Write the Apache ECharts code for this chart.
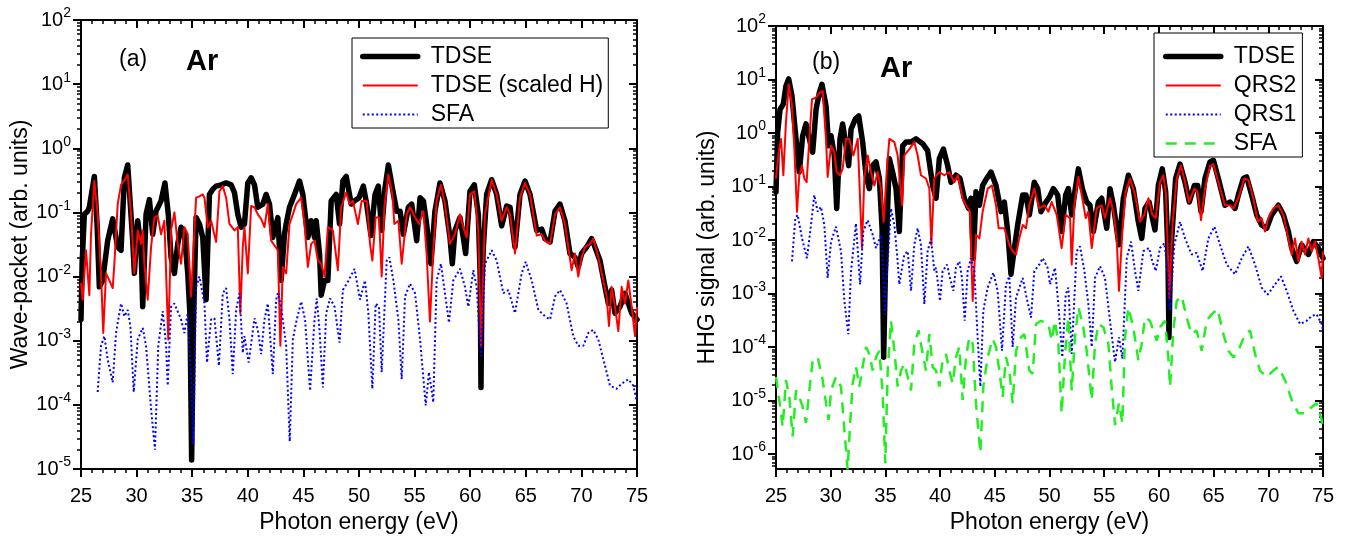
<!DOCTYPE html>
<html><head><meta charset="utf-8">
<script src="https://cdn.jsdelivr.net/npm/echarts@6/dist/echarts.min.js"></script>
<style>html,body{margin:0;padding:0;background:#fff}#c{width:1347px;height:539px}</style>
</head><body><div id="c"></div>
<script>
// ---- data: [photon energy (eV), log10(signal)] ----
const tdseA = [[25.0,-2.67],[25.1,-1.8],[25.3,-1.03],[25.6,-0.98],[25.75,-0.92],[26.2,-0.44],[26.45,-1.2],[26.65,-2.16],[26.95,-2.06],[27.4,-1.44],[27.85,-1.10],[28.3,-1.54],[28.6,-1.59],[28.9,-0.46],[29.2,-0.26],[29.65,-1.44],[29.8,-1.95],[30.1,-1.13],[30.4,-1.54],[30.55,-2.47],[30.85,-1.03],[31.15,-0.80],[31.45,-1.34],[31.75,-0.98],[32.2,-0.82],[32.55,-0.54],[32.85,-1.03],[33.1,-1.70],[33.4,-1.95],[33.7,-1.49],[34.0,-1.23],[34.3,-1.34],[34.6,-1.95],[34.8,-2.6],[34.95,-4.86],[35.1,-2.8],[35.35,-1.08],[35.65,-1.18],[35.95,-1.39],[36.25,-2.36],[36.55,-0.72],[36.85,-0.64],[37.15,-0.59],[37.6,-0.57],[38.05,-0.54],[38.5,-0.57],[38.8,-0.69],[39.1,-1.03],[39.4,-1.23],[39.7,-1.18],[40.0,-0.54],[40.3,-0.46],[40.6,-0.57],[40.9,-0.92],[41.35,-0.87],[41.65,-0.72],[41.95,-0.87],[42.25,-1.39],[42.7,-1.08],[43.0,-2.06],[43.3,-1.34],[43.45,-1.18],[43.75,-0.92],[44.2,-0.72],[44.65,-0.51],[44.95,-0.72],[45.4,-1.39],[45.7,-1.13],[46.0,-1.39],[46.15,-1.13],[46.45,-1.64],[46.6,-2.29],[46.9,-2.06],[47.2,-2.06],[47.5,-0.82],[47.95,-0.72],[48.25,-1.18],[48.55,-0.51],[48.85,-0.44],[49.3,-0.87],[49.6,-0.82],[50.0,-0.77],[50.39,-0.59],[50.69,-0.87],[51.08,-1.36],[51.44,-0.72],[51.74,-0.59],[52.04,-1.28],[52.34,-0.62],[52.64,-0.26],[53.0,-0.62],[53.39,-0.98],[53.69,-0.98],[53.99,-1.34],[54.44,-0.92],[54.74,-0.87],[55.19,-1.44],[55.49,-0.77],[55.79,-0.82],[56.08,-1.18],[56.47,-1.80],[56.83,-0.98],[57.28,-0.54],[57.73,-0.82],[58.18,-1.39],[58.39,-1.80],[58.63,-1.28],[59.08,-1.08],[59.38,-1.39],[59.59,-1.64],[59.98,-0.67],[60.37,-0.57],[60.73,-1.03],[60.9,-2.0],[60.97,-3.73],[61.05,-2.2],[61.18,-1.54],[61.48,-0.72],[61.93,-0.49],[62.38,-0.72],[62.83,-1.21],[63.28,-0.90],[63.58,-0.92],[64.03,-1.54],[64.48,-0.72],[64.93,-0.51],[65.38,-0.72],[65.98,-1.28],[66.43,-1.26],[66.73,-1.41],[67.18,-1.46],[67.63,-0.98],[68.07,-0.87],[68.52,-1.13],[68.97,-1.64],[69.42,-1.70],[69.72,-1.85],[70.02,-1.64],[70.47,-1.54],[70.92,-1.41],[71.22,-1.54],[71.67,-1.75],[72.12,-2.16],[72.42,-2.42],[72.72,-2.21],[73.02,-2.57],[73.47,-2.47],[73.92,-2.26],[74.22,-2.42],[74.52,-2.57],[75.0,-2.67]];
const scaledHA = [[25.0,-2.1],[25.15,-2.36],[25.45,-1.59],[25.75,-2.29],[25.9,-1.34],[26.2,-0.51],[26.5,-1.03],[26.8,-1.95],[27.0,-2.88],[27.25,-1.95],[27.55,-2.06],[27.85,-2.18],[28.0,-1.80],[28.3,-0.87],[28.6,-0.57],[29.05,-0.46],[29.2,-0.41],[29.5,-1.03],[29.8,-1.95],[30.1,-1.28],[30.4,-1.49],[30.55,-1.28],[30.7,-1.80],[31.0,-2.36],[31.3,-1.54],[31.6,-1.08],[31.9,-1.05],[32.2,-1.34],[32.5,-1.13],[32.85,-2.98],[33.1,-1.28],[33.4,-1.00],[33.7,-1.49],[34.0,-1.80],[34.3,-1.23],[34.6,-1.34],[34.9,-2.31],[35.35,-0.77],[35.65,-0.75],[35.95,-0.72],[36.1,-0.77],[36.4,-1.23],[36.7,-1.13],[37.15,-1.46],[37.45,-0.67],[37.75,-0.59],[38.05,-0.77],[38.35,-1.18],[38.8,-1.28],[39.1,-1.23],[39.33,-2.57],[39.55,-1.54],[39.7,-1.23],[40.0,-1.95],[40.3,-0.90],[40.6,-0.92],[40.9,-1.03],[41.2,-1.10],[41.5,-1.23],[41.8,-0.87],[42.1,-1.44],[42.7,-1.59],[42.93,-3.08],[43.15,-1.85],[43.45,-1.95],[43.75,-1.18],[44.05,-1.03],[44.35,-0.87],[44.8,-0.77],[45.1,-1.18],[45.4,-1.85],[45.7,-1.49],[46.0,-1.44],[46.3,-1.75],[46.6,-1.80],[46.9,-2.00],[47.2,-1.23],[47.65,-1.28],[48.1,-1.90],[48.4,-0.92],[48.85,-0.69],[49.15,-0.87],[49.45,-0.82],[49.9,-1.18],[50.24,-0.82],[50.69,-0.82],[50.99,-1.49],[51.2,-1.75],[51.5,-1.08],[51.8,-1.08],[52.04,-2.00],[52.28,-0.92],[52.64,-0.41],[53.0,-0.72],[53.18,-1.18],[53.54,-1.13],[53.84,-1.80],[54.29,-1.03],[54.59,-0.92],[55.04,-1.08],[55.4,-1.18],[55.79,-0.98],[56.08,-1.64],[56.38,-2.70],[56.68,-1.59],[56.98,-0.82],[57.37,-0.57],[57.73,-0.87],[58.18,-1.49],[58.63,-1.34],[59.08,-1.03],[59.38,-1.23],[59.68,-1.39],[59.98,-0.72],[60.37,-0.67],[60.73,-1.28],[60.97,-3.08],[61.33,-1.03],[61.93,-0.49],[62.38,-0.72],[62.83,-1.13],[63.28,-0.92],[63.58,-1.03],[64.03,-1.64],[64.48,-0.77],[64.93,-0.54],[65.38,-0.72],[65.98,-1.36],[66.43,-1.34],[66.73,-1.44],[67.18,-1.49],[67.63,-1.03],[68.07,-0.92],[68.52,-1.18],[69.12,-1.90],[69.42,-1.64],[69.72,-2.00],[70.02,-1.70],[70.32,-1.54],[70.77,-1.49],[71.07,-1.41],[71.52,-1.70],[71.97,-2.06],[72.27,-2.31],[72.48,-2.77],[72.72,-2.16],[73.02,-2.47],[73.32,-2.85],[73.62,-2.16],[73.92,-2.42],[74.22,-2.06],[74.52,-2.47],[74.82,-2.93],[75.0,-2.47]];
const sfaA = [[26.5,-3.80],[26.8,-3.08],[27.1,-2.93],[27.4,-3.29],[27.85,-3.65],[28.15,-2.88],[28.6,-2.42],[28.9,-2.62],[29.2,-2.52],[29.44,-2.77],[29.74,-3.80],[30.1,-2.98],[30.55,-2.80],[30.85,-3.08],[31.3,-4.06],[31.65,-4.70],[31.95,-3.08],[32.35,-2.54],[32.65,-3.08],[32.8,-3.70],[33.1,-2.47],[33.4,-2.42],[34.0,-2.67],[34.3,-2.88],[34.6,-2.57],[34.9,-3.60],[35.1,-4.62],[35.35,-2.16],[35.65,-2.00],[36.1,-2.42],[36.33,-3.34],[36.7,-2.67],[37.0,-2.65],[37.4,-3.39],[37.75,-2.26],[38.05,-2.18],[38.35,-2.67],[38.65,-3.52],[38.95,-2.52],[39.25,-2.26],[39.55,-3.19],[39.7,-2.93],[40.08,-3.34],[40.6,-2.65],[40.9,-2.83],[41.2,-3.21],[41.5,-2.67],[41.8,-2.42],[42.25,-3.52],[42.55,-2.36],[42.7,-2.26],[43.0,-2.47],[43.45,-3.08],[43.77,-4.57],[44.05,-2.98],[44.4,-2.67],[44.8,-2.39],[45.15,-2.67],[45.6,-3.78],[46.0,-2.67],[46.2,-2.34],[46.45,-2.83],[46.75,-3.73],[47.05,-2.57],[47.4,-2.34],[47.8,-2.47],[48.25,-3.03],[48.55,-2.21],[49.0,-2.08],[49.6,-1.88],[50.09,-2.36],[50.54,-2.06],[50.84,-2.57],[51.2,-3.75],[51.5,-2.42],[51.8,-2.47],[52.04,-3.49],[52.49,-1.75],[52.73,-1.70],[53.09,-2.06],[53.54,-2.67],[53.84,-3.60],[54.14,-2.31],[54.59,-2.11],[55.04,-2.26],[55.49,-2.98],[56.0,-4.01],[56.29,-3.49],[56.68,-3.96],[56.98,-2.06],[57.37,-1.80],[57.73,-2.26],[58.09,-2.72],[58.48,-2.06],[59.08,-1.88],[59.53,-2.16],[59.83,-2.47],[60.28,-1.90],[60.58,-2.16],[60.97,-3.24],[61.33,-1.80],[61.93,-1.59],[62.38,-1.75],[62.98,-2.26],[63.43,-2.21],[64.03,-2.57],[64.63,-1.95],[64.99,-1.77],[65.53,-2.06],[66.13,-2.52],[66.73,-2.62],[67.18,-2.67],[67.63,-2.31],[68.07,-2.21],[68.67,-2.42],[69.27,-2.93],[69.72,-3.08],[70.17,-3.08],[70.62,-2.88],[71.07,-2.83],[71.52,-2.98],[72.12,-3.39],[72.57,-3.70],[73.17,-3.75],[73.62,-3.67],[74.22,-3.60],[74.67,-3.70],[75.0,-3.96]];
const tdseB = [[25.0,-1.10],[25.15,0.01],[25.37,0.44],[25.67,0.54],[25.91,0.88],[26.16,1.01],[26.46,0.69],[26.83,-0.11],[27.13,-0.73],[27.44,-0.05],[27.74,0.17],[28.05,-0.11],[28.35,-0.36],[28.66,0.44],[28.96,0.75],[29.2,0.91],[29.57,0.51],[29.81,-0.24],[30.03,-0.05],[30.33,-0.42],[30.55,-1.41],[30.85,-0.11],[31.09,0.17],[31.4,-0.24],[31.64,-0.61],[31.86,0.07],[32.25,0.26],[32.56,0.32],[32.92,-0.17],[33.23,-0.79],[33.53,-1.04],[33.84,-0.61],[34.14,-0.54],[34.45,-0.85],[34.7,-1.8],[34.84,-4.19],[35.0,-2.6],[35.36,-0.48],[35.66,-0.73],[35.97,-1.04],[36.27,-1.84],[36.58,-0.24],[36.88,-0.17],[37.34,-0.17],[37.8,-0.11],[38.41,-0.2],[38.86,-0.33],[39.32,-0.98],[39.63,-1.22],[39.93,-0.48],[40.3,-0.30],[40.69,-0.61],[41.0,-0.92],[41.45,-0.79],[41.82,-0.85],[42.21,-1.22],[42.61,-1.41],[42.82,-1.22],[43.04,-2.34],[43.28,-1.10],[43.59,-1.35],[43.89,-0.98],[44.26,-0.85],[44.65,-0.73],[45.11,-0.98],[45.57,-1.47],[45.87,-1.29],[46.18,-1.84],[46.48,-2.64],[46.79,-2.15],[47.09,-1.72],[47.55,-1.16],[47.85,-1.16],[48.16,-1.53],[48.61,-0.92],[48.92,-1.04],[49.22,-1.47],[49.68,-1.29],[50.0,-1.2],[50.35,-1.04],[50.75,-1.16],[51.11,-1.84],[51.48,-1.16],[51.72,-1.04],[52.03,-1.53],[52.27,-1.16],[52.64,-0.67],[53.0,-1.04],[53.4,-1.29],[53.7,-1.35],[54.01,-1.84],[54.47,-1.29],[54.77,-1.22],[55.23,-1.78],[55.53,-1.04],[55.84,-1.35],[56.35,-2.09],[56.75,-1.22],[57.21,-0.79],[57.66,-1.04],[58.12,-1.66],[58.43,-1.97],[58.73,-1.41],[59.1,-1.29],[59.4,-1.59],[59.64,-1.81],[59.95,-0.98],[60.31,-0.67],[60.62,-1.10],[60.82,-2.2],[60.92,-3.82],[61.05,-2.4],[61.17,-1.97],[61.53,-0.85],[61.93,-0.58],[62.39,-0.92],[62.78,-1.29],[63.24,-0.98],[63.54,-0.98],[63.85,-1.47],[64.21,-0.85],[64.67,-0.54],[64.98,-0.51],[65.43,-0.85],[66.04,-1.35],[66.5,-1.29],[66.96,-1.41],[67.26,-1.16],[67.72,-0.85],[68.02,-0.82],[68.48,-1.16],[68.94,-1.53],[69.39,-1.72],[69.85,-1.78],[70.31,-1.53],[70.92,-1.35],[71.38,-1.53],[71.83,-1.84],[72.14,-2.15],[72.59,-2.40],[73.05,-2.09],[73.66,-2.27],[74.12,-2.03],[74.57,-2.15],[75.0,-2.34]];
const qrs2B = [[25.0,-0.85],[25.24,-0.36],[25.46,-0.11],[25.67,-0.79],[25.91,0.20],[26.16,0.91],[26.46,0.51],[26.68,-0.30],[26.92,-1.47],[27.13,-0.79],[27.38,-0.61],[27.59,-0.85],[27.8,-0.92],[28.05,-0.11],[28.29,0.63],[28.66,0.66],[28.96,0.75],[29.27,0.78],[29.57,-0.11],[29.72,-0.82],[30.03,-0.24],[30.33,-0.36],[30.55,-0.73],[30.85,-0.79],[31.09,-0.67],[31.4,-0.11],[31.7,-0.11],[32.07,-0.42],[32.47,-0.11],[32.86,-2.15],[33.07,-0.85],[33.38,-0.42],[33.68,-0.73],[33.99,-0.98],[34.29,-0.73],[34.6,-1.04],[34.84,-1.66],[35.12,-0.73],[35.36,-0.11],[35.82,-0.17],[36.12,-0.42],[36.52,-1.35],[36.73,-0.42],[37.19,-0.30],[37.64,-0.17],[37.95,-0.42],[38.25,-0.79],[38.71,-0.85],[39.02,-1.04],[39.2,-2.09],[39.47,-0.85],[39.93,-0.73],[40.39,-0.79],[40.84,-0.73],[41.3,-0.92],[41.61,-0.79],[42.06,-1.22],[42.37,-1.35],[42.73,-1.47],[42.98,-3.14],[43.28,-1.90],[43.59,-1.97],[43.89,-1.47],[44.35,-1.04],[44.74,-0.98],[45.11,-1.35],[45.35,-1.78],[45.87,-1.78],[46.33,-2.09],[46.63,-2.21],[46.94,-2.27],[47.24,-1.97],[47.55,-1.72],[47.85,-1.78],[48.16,-1.35],[48.61,-1.04],[49.07,-1.41],[49.53,-1.35],[49.9,-1.47],[50.2,-1.29],[50.66,-1.53],[51.11,-2.15],[51.48,-1.53],[51.88,-1.59],[52.03,-2.46],[52.27,-1.35],[52.64,-0.82],[53.0,-1.22],[53.31,-1.59],[53.55,-1.47],[53.86,-2.15],[54.31,-1.41],[54.77,-1.35],[55.07,-1.59],[55.53,-1.22],[55.84,-1.47],[56.14,-1.97],[56.35,-2.95],[56.66,-1.84],[56.96,-1.10],[57.36,-0.85],[57.82,-1.16],[58.27,-1.66],[58.67,-1.53],[59.04,-1.22],[59.4,-1.53],[59.71,-1.59],[60.1,-0.92],[60.41,-0.79],[60.65,-1.16],[60.95,-3.08],[61.26,-1.66],[61.63,-0.85],[62.02,-0.61],[62.39,-0.92],[62.75,-1.29],[63.24,-1.04],[63.54,-1.10],[63.85,-1.63],[64.21,-1.04],[64.67,-0.61],[64.98,-0.58],[65.43,-0.92],[66.04,-1.35],[66.5,-1.35],[66.81,-1.41],[67.26,-1.22],[67.81,-0.85],[68.18,-0.88],[68.63,-1.22],[69.03,-1.66],[69.39,-1.59],[69.7,-1.84],[70.0,-1.59],[70.46,-1.41],[70.92,-1.35],[71.38,-1.53],[71.83,-1.97],[72.14,-2.27],[72.44,-1.97],[72.75,-2.40],[73.05,-2.03],[73.36,-2.27],[73.66,-1.97],[73.97,-2.21],[74.27,-2.03],[74.57,-2.34],[74.88,-2.71],[75.0,-2.21]];
const qrs1B = [[26.46,-2.40],[26.77,-1.59],[26.98,-1.53],[27.38,-1.97],[27.83,-2.34],[28.2,-1.72],[28.5,-1.16],[28.81,-1.47],[29.11,-1.38],[29.42,-1.72],[29.72,-2.71],[30.03,-2.03],[30.48,-1.75],[30.94,-2.21],[31.25,-3.14],[31.61,-3.76],[31.86,-2.58],[32.31,-1.69],[32.68,-2.83],[32.98,-1.84],[33.38,-1.63],[33.84,-1.90],[34.14,-2.15],[34.6,-1.90],[34.81,-2.58],[34.96,-3.39],[35.15,-2.58],[35.51,-1.41],[35.82,-1.72],[36.12,-2.40],[36.27,-2.83],[36.73,-2.27],[37.04,-2.21],[37.34,-2.95],[37.64,-2.09],[37.95,-1.78],[38.25,-2.09],[38.56,-3.20],[38.86,-2.21],[39.17,-1.97],[39.47,-2.58],[39.63,-2.52],[39.99,-3.14],[40.23,-2.58],[40.63,-2.46],[40.9,-2.71],[41.21,-2.95],[41.45,-2.52],[41.76,-2.40],[42.0,-2.71],[42.25,-3.51],[42.52,-2.58],[42.82,-2.34],[43.13,-2.58],[43.43,-3.82],[43.68,-4.74],[43.95,-3.32],[44.35,-2.89],[44.87,-2.61],[45.26,-2.95],[45.66,-4.07],[46.02,-2.83],[46.33,-2.68],[46.63,-4.00],[46.94,-3.08],[47.55,-2.71],[47.91,-3.08],[48.31,-3.45],[48.61,-2.58],[49.07,-2.46],[49.38,-2.34],[49.83,-2.52],[50.05,-2.83],[50.5,-2.52],[50.81,-3.20],[51.17,-4.19],[51.48,-3.02],[51.72,-2.89],[52.03,-4.13],[52.48,-2.21],[52.79,-2.12],[53.19,-2.58],[53.55,-3.20],[53.86,-4.00],[54.16,-2.71],[54.62,-2.49],[55.07,-2.71],[55.53,-3.51],[55.99,-4.28],[56.35,-3.82],[56.66,-4.22],[57.06,-2.34],[57.45,-2.03],[57.82,-2.58],[58.12,-2.95],[58.58,-2.21],[59.1,-2.15],[59.4,-2.40],[59.71,-2.58],[60.1,-2.15],[60.5,-2.06],[60.8,-2.58],[61.02,-3.32],[61.41,-2.09],[61.93,-1.66],[62.39,-1.97],[62.99,-2.27],[63.45,-2.24],[64.0,-2.58],[64.52,-1.97],[65.07,-1.75],[65.59,-2.09],[66.2,-2.46],[66.96,-2.64],[67.57,-2.34],[68.18,-2.12],[68.79,-2.46],[69.39,-2.89],[69.94,-3.02],[70.61,-2.83],[71.16,-2.68],[71.68,-2.95],[72.29,-3.32],[72.9,-3.57],[73.51,-3.51],[73.97,-3.42],[74.42,-3.39],[74.88,-3.57],[75.0,-3.69]];
const sfaB = [[25.0,-4.56],[25.3,-4.99],[25.61,-5.49],[25.91,-4.62],[26.22,-4.93],[26.52,-5.67],[26.83,-4.81],[27.13,-4.93],[27.44,-5.12],[27.74,-5.42],[28.05,-4.81],[28.35,-4.25],[28.81,-4.19],[29.27,-4.62],[29.57,-5.05],[29.81,-5.36],[30.03,-4.81],[30.48,-4.56],[30.94,-4.74],[31.25,-5.55],[31.55,-6.29],[31.76,-5.49],[32.01,-4.68],[32.31,-4.37],[32.62,-4.74],[32.92,-4.37],[33.23,-4.00],[33.53,-4.13],[33.84,-4.44],[34.14,-4.19],[34.45,-4.07],[34.75,-4.87],[34.99,-6.17],[35.21,-4.44],[35.51,-3.51],[35.82,-4.07],[36.12,-4.74],[36.43,-4.44],[36.73,-4.31],[37.04,-4.56],[37.34,-4.81],[37.64,-3.94],[38.04,-3.69],[38.41,-4.13],[38.71,-4.44],[39.02,-3.76],[39.32,-4.37],[39.63,-4.44],[39.93,-4.74],[40.23,-4.25],[40.54,-4.13],[40.84,-4.44],[41.15,-4.68],[41.45,-4.19],[41.76,-4.00],[42.06,-4.99],[42.37,-4.19],[42.67,-3.82],[42.98,-3.94],[43.28,-5.05],[43.68,-5.98],[43.95,-4.74],[44.35,-4.19],[44.8,-3.85],[45.11,-4.00],[45.41,-4.44],[45.72,-4.93],[46.02,-4.19],[46.33,-4.44],[46.63,-5.05],[46.94,-4.07],[47.39,-3.82],[47.7,-3.76],[48.16,-4.44],[48.46,-4.50],[48.77,-3.57],[49.22,-3.51],[49.9,-3.57],[50.2,-3.88],[50.5,-3.51],[50.81,-3.94],[51.11,-5.24],[51.42,-4.13],[51.72,-3.45],[52.03,-4.81],[52.33,-3.82],[52.64,-3.26],[53.09,-3.63],[53.4,-4.07],[53.86,-4.99],[54.16,-3.94],[54.47,-3.57],[54.92,-3.63],[55.38,-3.94],[55.68,-4.74],[55.99,-5.46],[56.35,-5.05],[56.66,-5.42],[56.9,-3.82],[57.21,-3.26],[57.66,-3.63],[58.12,-4.25],[58.43,-3.94],[58.73,-3.45],[59.19,-3.51],[59.49,-3.69],[59.8,-3.88],[60.1,-3.63],[60.56,-3.51],[60.86,-4.19],[61.02,-4.74],[61.32,-3.69],[61.63,-3.14],[62.08,-3.05],[62.54,-3.45],[62.99,-3.76],[63.45,-3.69],[63.91,-4.07],[64.37,-3.51],[64.82,-3.39],[65.37,-3.29],[65.89,-3.76],[66.35,-4.07],[66.81,-4.19],[67.26,-4.07],[67.87,-3.76],[68.33,-3.69],[68.79,-4.13],[69.24,-4.44],[69.85,-4.56],[70.46,-4.44],[70.92,-4.37],[71.53,-4.62],[72.14,-4.99],[72.75,-5.24],[73.36,-5.24],[73.97,-5.12],[74.42,-5.05],[74.88,-5.36],[75.0,-5.55]];

// axis ranges (energy in eV, log10 of signal)
const energyRange = [25, 75];
const logRangeA = [-5, 2];
const logRangeB = [-6.28, 2];

const FONT = '"Liberation Sans", Arial, Helvetica, sans-serif';
function majorList(lo, hi){ const r=[]; for(let n=Math.ceil(lo); n<=hi; n++) r.push(n); return r; }
function minorList(lo, hi){ const r=[]; for(let n=Math.floor(lo); n<hi; n++) for(let k=2;k<=9;k++){ const v=n+Math.log10(k); if(v>=lo-1e-9 && v<=hi+1e-9) r.push(v);} return r; }
const labelRich = {
  b:{fontSize:20, fontFamily:FONT, color:'#000'},
  s:{fontSize:14, fontFamily:FONT, color:'#000', padding:[0,0,13,0]}
};
function supLabel(v){ return '{b|10}{s|' + Math.round(v) + '}'; }

function xAx(grid, pos){
  const bottom = pos === 'bottom';
  return { type:'value', gridIndex:grid, position:pos, min:energyRange[0], max:energyRange[1], interval:5,
    axisLine:{show:true, onZero:false, lineStyle:{color:'#000', width:2}},
    axisTick:{show:true, inside:!bottom, length:8, lineStyle:{color:'#000', width:2}},
    minorTick:{show:true, splitNumber:5, length:4, lineStyle:{color:'#000', width:1.5}},
    axisLabel:{show:bottom, fontSize:20, fontFamily:FONT, color:'#000', margin:17},
    splitLine:{show:false}, minorSplitLine:{show:false},
    name: bottom ? 'Photon energy (eV)' : '', nameLocation:'middle', nameGap:42,
    nameTextStyle:{fontSize:23, fontFamily:FONT, color:'#000'} };
}
function yAx(grid, pos, range, major, name, nameGap){
  const left = pos === 'left';
  const ticks = major ? majorList(range[0], range[1]) : minorList(range[0], range[1]);
  return { type:'value', gridIndex:grid, position:pos, min:range[0], max:range[1],
    axisLine:{show:major, onZero:false, lineStyle:{color:'#000', width:2}},
    axisTick:{show:true, inside:!left, length: major?8:4, customValues: ticks, lineStyle:{color:'#000', width: major?2:1.5}},
    axisLabel:{show: major && left, customValues: ticks, formatter: supLabel, rich: labelRich, margin: 10},
    splitLine:{show:false},
    name: (major && left) ? name : '', nameLocation:'middle', nameGap: nameGap || 40,
    nameTextStyle:{fontSize:23, fontFamily:FONT, color:'#000'} };
}
function lineSeries(name, data, xi, yi, style, z){
  return { name, type:'line', data, xAxisIndex:xi, yAxisIndex:yi, symbol:'none', showSymbol:false,
    color: style.color, lineStyle: style, z, animation:false, silent:true };
}
const sBlack = {color:'#000', width:5.5, cap:'round', join:'round'};
const sRed = {color:'#ff0000', width:2, join:'round'};
const sBlue = {color:'#0000ff', width:2, type:[2,2.5]};
const sGreen = {color:'#22ee22', width:2.5, type:[11,8]};

const legendBase = { orient:'vertical', itemWidth:55, itemHeight:14, itemGap:6, selectedMode:false,
  borderColor:'#000', borderWidth:1, backgroundColor:'#fff',
  itemStyle:{opacity:0},
  formatter: n => n.replace(' [b]',''),
  textStyle:{fontSize:23, fontFamily:FONT, color:'#000', lineHeight:23, padding:[0,0,0,8]} };

const chart = echarts.init(document.getElementById('c'), null, {renderer:'canvas'});
chart.setOption({
  animation:false,
  backgroundColor:'#fff',
  grid:[{left:81, top:20, width:556, height:454}, {left:776, top:26, width:547, height:447}],
  title:[
    {text:'(a)', left:119, top:48, padding:0, textStyle:{fontSize:23, fontWeight:'normal', fontFamily:FONT, color:'#000'}},
    {text:'Ar', left:186, top:47, padding:0, textStyle:{fontSize:29, fontWeight:'bold', fontFamily:FONT, color:'#000'}},
    {text:'(b)', left:812, top:51, padding:0, textStyle:{fontSize:23, fontWeight:'normal', fontFamily:FONT, color:'#000'}},
    {text:'Ar', left:880, top:54, padding:0, textStyle:{fontSize:29, fontWeight:'bold', fontFamily:FONT, color:'#000'}}
  ],
  legend:[
    Object.assign({}, legendBase, {left:352, top:38, padding:[7,5,2,8],
      data:[{name:'TDSE', lineStyle:{width:5.5}}, {name:'TDSE (scaled H)', lineStyle:{width:2}}, {name:'SFA', lineStyle:{width:2}}]}),
    Object.assign({}, legendBase, {left:1154, top:33, padding:[12,6,2,9],
      data:[{name:'TDSE [b]', lineStyle:{width:5.5}}, {name:'QRS2 [b]', lineStyle:{width:2}}, {name:'QRS1 [b]', lineStyle:{width:2}}, {name:'SFA [b]', lineStyle:{width:2.5}}]})
  ],
  xAxis:[xAx(0,'bottom'), xAx(0,'top'), xAx(1,'bottom'), xAx(1,'top')],
  yAxis:[
    Object.assign(yAx(0,'left',logRangeA,true,'Wave-packet (arb. units)',48), {interval:1}),
    yAx(0,'left',logRangeA,false),
    Object.assign(yAx(0,'right',logRangeA,true), {interval:1}),
    yAx(0,'right',logRangeA,false),
    yAx(1,'left',logRangeB,true,'HHG signal (arb. units)',57),
    yAx(1,'left',logRangeB,false),
    yAx(1,'right',logRangeB,true),
    yAx(1,'right',logRangeB,false)
  ],
  series:[
    lineSeries('TDSE', tdseA, 0, 0, sBlack, 2),
    lineSeries('TDSE (scaled H)', scaledHA, 0, 0, sRed, 3),
    lineSeries('SFA', sfaA, 0, 0, sBlue, 4),
    lineSeries('TDSE [b]', tdseB, 2, 4, sBlack, 2),
    lineSeries('QRS2 [b]', qrs2B, 2, 4, sRed, 3),
    lineSeries('QRS1 [b]', qrs1B, 2, 4, sBlue, 4),
    lineSeries('SFA [b]', sfaB, 2, 4, sGreen, 5)
  ]
});
</script></body></html>
